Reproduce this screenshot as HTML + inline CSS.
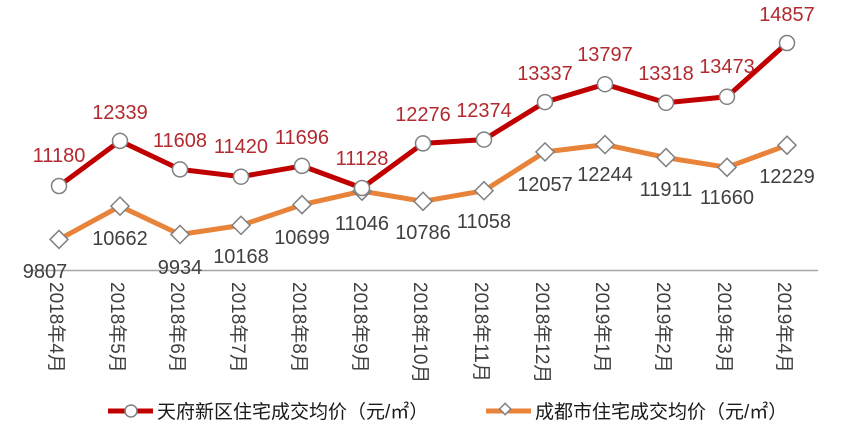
<!DOCTYPE html>
<html><head><meta charset="utf-8"><style>
html,body{margin:0;padding:0;background:#fff;}
svg{display:block;font-family:"Liberation Sans","Noto Sans CJK SC",sans-serif;}
</style></head><body>
<svg width="858" height="427" viewBox="0 0 858 427" xmlns="http://www.w3.org/2000/svg">
<line x1="30" y1="270.5" x2="818" y2="270.5" stroke="#a6a6a6" stroke-width="1.5"/>
<g id="chart"></g>
<g font-size="19" fill="#3f3f3f">
<text transform="translate(50,282) rotate(90)">2018年4月</text>
<text transform="translate(111,282) rotate(90)">2018年5月</text>
<text transform="translate(171,282) rotate(90)">2018年6月</text>
<text transform="translate(232,282) rotate(90)">2018年7月</text>
<text transform="translate(293,282) rotate(90)">2018年8月</text>
<text transform="translate(354,282) rotate(90)">2018年9月</text>
<text transform="translate(414,282) rotate(90)">2018年10月</text>
<text transform="translate(475,282) rotate(90)">2018年11月</text>
<text transform="translate(536,282) rotate(90)">2018年12月</text>
<text transform="translate(596,282) rotate(90)">2019年1月</text>
<text transform="translate(657,282) rotate(90)">2019年2月</text>
<text transform="translate(718,282) rotate(90)">2019年3月</text>
<text transform="translate(778,282) rotate(90)">2019年4月</text>
</g>
<line x1="108" y1="411" x2="153" y2="411" stroke="#c00000" stroke-width="5"/>
<circle cx="131" cy="411" r="6" fill="#fff" stroke="#808080" stroke-width="1.5"/>
<text x="157" y="418" font-size="19" fill="#1a1a1a">天府新区住宅成交均价（元/㎡）</text>
<line x1="486" y1="411" x2="531" y2="411" stroke="#e8833a" stroke-width="5"/>
<rect x="504" y="405" width="8" height="8" transform="rotate(45 508 409) translate(-2 2)" fill="#fff" stroke="#808080" stroke-width="1.5"/>
<text x="535" y="418" font-size="19" fill="#1a1a1a">成都市住宅成交均价（元/㎡）</text>
</svg>
<script>
var xs=[59,120,180,241,302,362,423,484,545,605,666,727,787];
var red=[11180,12339,11608,11420,11696,11128,12276,12374,13337,13797,13318,13473,14857];
var org=[9807,10662,9934,10168,10699,11046,10786,11058,12057,12244,11911,11660,12229];
var rl=[[59,155],[120,112],[180,140],[241,146],[302,137],[362,158],[423,114],[484,110],[545,73],[605,54],[666,73],[727,66],[787,14]];
var ol=[[45,271],[120,238],[180,267],[241,256],[302,237],[362,223],[423,232],[484,221],[545,184],[605,174],[666,189],[727,197],[787,176]];
function Y(v){return 186-(v-11180)*0.0389;}
var ns="http://www.w3.org/2000/svg",g=document.getElementById('chart'),h='';
function pts(a){return a.map(function(v,i){return xs[i]+','+Y(v).toFixed(1)}).join(' ');}
h+='<polyline points="'+pts(org)+'" fill="none" stroke="#e8833a" stroke-width="5" stroke-linejoin="round"/>';
h+='<polyline points="'+pts(red)+'" fill="none" stroke="#c00000" stroke-width="5" stroke-linejoin="round"/>';
org.forEach(function(v,i){var x=xs[i],y=Y(v);h+='<polygon points="'+x+','+(y-9)+' '+(x+9)+','+y+' '+x+','+(y+9)+' '+(x-9)+','+y+'" fill="#fff" stroke="#808080" stroke-width="1.5"/>';});
red.forEach(function(v,i){h+='<circle cx="'+xs[i]+'" cy="'+Y(v).toFixed(1)+'" r="7.5" fill="#fff" stroke="#808080" stroke-width="1.5"/>';});
red.forEach(function(v,i){h+='<text x="'+rl[i][0]+'" y="'+(rl[i][1]+7)+'" font-size="20" fill="#b22a2f" text-anchor="middle">'+v+'</text>';});
org.forEach(function(v,i){h+='<text x="'+ol[i][0]+'" y="'+(ol[i][1]+7)+'" font-size="20" fill="#404040" text-anchor="middle">'+v+'</text>';});
g.innerHTML=h;
</script>
</body></html>
